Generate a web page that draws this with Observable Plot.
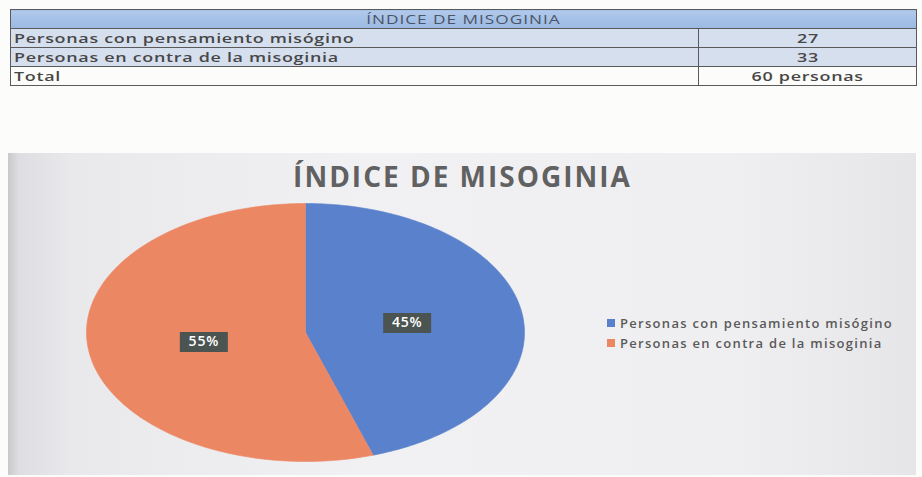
<!DOCTYPE html>
<html>
<head>
<meta charset="utf-8">
<script src="https://cdn.jsdelivr.net/npm/d3@7"></script>
<script src="https://cdn.jsdelivr.net/npm/@observablehq/plot@0.6"></script>
<style>
  html, body { margin: 0; padding: 0; }
  body { width: 922px; height: 477px; position: relative; overflow: hidden; background: #fcfcfb; font-family: "Open Sans", sans-serif; }
  #tbl { position: absolute; left: 10px; top: 9px; width: 906px; border-collapse: collapse; color: #474747; table-layout: fixed; }
  #tbl td { border: 1px solid #5a5a5a; padding: 0 3px; height: 18px; line-height: 17px; font-size: 13px; font-weight: 600; letter-spacing: 0.5px; white-space: nowrap; overflow: visible; }
  #tbl td span { display: inline-block; height: 17px; transform: scaleX(1.38); transform-origin: 0 50%; }
  #tbl td.v span, #tbl tr.h td span { transform-origin: 50% 50%; }
  #tbl tr.h td { background: linear-gradient(#b0c9ec, #9cb9e3); text-align: center; height: 18px; color: #4d5565; font-weight: 400; font-size: 12.5px; letter-spacing: 0.7px; }
  #tbl tr.b td { background: #d6dfee; }
  #tbl td.v { text-align: center; }
  #chart { position: absolute; left: 8px; top: 153px; width: 908px; height: 322px;
    background: linear-gradient(90deg, #c9c9cc 0%, #dedee2 1.2%, #e9e9ec 7%, #f1f1f3 40%, #efeff1 80%, #e6e6e9 100%); }
  #legend { position: absolute; left: 607px; top: 313px; font-size: 13px; font-weight: 600; letter-spacing: 1.3px; color: #5a5a5a; }
  #legend div { height: 20px; line-height: 20px; white-space: nowrap; }
  #legend span.sw { display: inline-block; width: 8px; height: 8px; margin-right: 5px; vertical-align: 1px; }
</style>
</head>
<body>
<table id="tbl"><colgroup><col style="width:688px"><col style="width:218px"></colgroup><tbody id="tb"></tbody></table>
<div id="chart"></div>
<div id="legend"></div>
<script>
const title = "ÍNDICE DE MISOGINIA";
const categories = ["Personas con pensamiento misógino", "Personas en contra de la misoginia"];
const counts = [27, 33];
const totalLabel = "Total";
const totalText = "60 personas";
const percentLabels = ["45%", "55%"];
const colors = ["#5a82cc", "#ec8764"];

// Table
let html = `<tr class="h"><td colspan="2"><span>${title}</span></td></tr>`;
categories.forEach((c, i) => { html += `<tr class="b"><td><span>${c}</span></td><td class="v"><span>${counts[i]}</span></td></tr>`; });
html += `<tr><td><span>${totalLabel}</span></td><td class="v"><span>${totalText}</span></td></tr>`;
document.getElementById("tb").innerHTML = html;

// Pie geometry from data
const data = categories.map((name, i) => ({name, value: counts[i], label: percentLabels[i]}));
const arcs = d3.pie().sort(null).value(d => d.value)(data);
const pts = [];
for (const a of arcs) {
  const name = a.data.name;
  pts.push({name, x: 0, y: 0});
  const n = Math.max(2, Math.ceil((a.endAngle - a.startAngle) / (Math.PI / 180)));
  for (let k = 0; k <= n; k++) {
    const t = a.startAngle + (a.endAngle - a.startAngle) * k / n;
    pts.push({name, x: Math.sin(t), y: Math.cos(t)});
  }
  pts.push({name, x: 0, y: 0});
}
const labels = arcs.map(a => {
  const m = (a.startAngle + a.endAngle) / 2;
  return {label: a.data.label, x: 0.47 * Math.sin(m), y: 0.47 * Math.cos(m)};
});
const box = { draw(ctx) { ctx.rect(-24, -10, 48, 20); } };

const plot = Plot.plot({
  width: 908,
  height: 322,
  margin: 0,
  style: { background: "transparent", overflow: "visible" },
  x: { domain: [-1, 1], range: [78, 516], axis: null },
  y: { domain: [-1, 1], range: [308, 50], axis: null },
  color: { domain: categories, range: colors },
  marks: [
    Plot.line(pts, { x: "x", y: "y", z: "name", fill: "name", stroke: "name", strokeWidth: 0.6, curve: "linear" }),
    Plot.dot(labels, { x: "x", y: "y", symbol: box, fill: "#4b5451", stroke: "none" }),
    Plot.text(labels, { x: "x", y: "y", text: "label", fill: "white", fontSize: 14, fontWeight: 600, fontFamily: "Open Sans" }),
    Plot.text([title], { frameAnchor: "top", dy: 25, text: d => d, fontSize: 28, fontWeight: "bold", fill: "#616161", fontFamily: "Open Sans", lineAnchor: "middle" })
  ]
});
d3.select(plot).selectAll("text").each(function () {
  if (this.textContent === title) this.style.letterSpacing = "2px";
  else if (percentLabels.includes(this.textContent)) this.style.letterSpacing = "0.8px";
});
document.getElementById("chart").appendChild(plot);

// Legend
document.getElementById("legend").innerHTML = categories.map((c, i) =>
  `<div><span class="sw" style="background:${colors[i]}"></span>${c}</div>`).join("");
</script>
</body>
</html>
